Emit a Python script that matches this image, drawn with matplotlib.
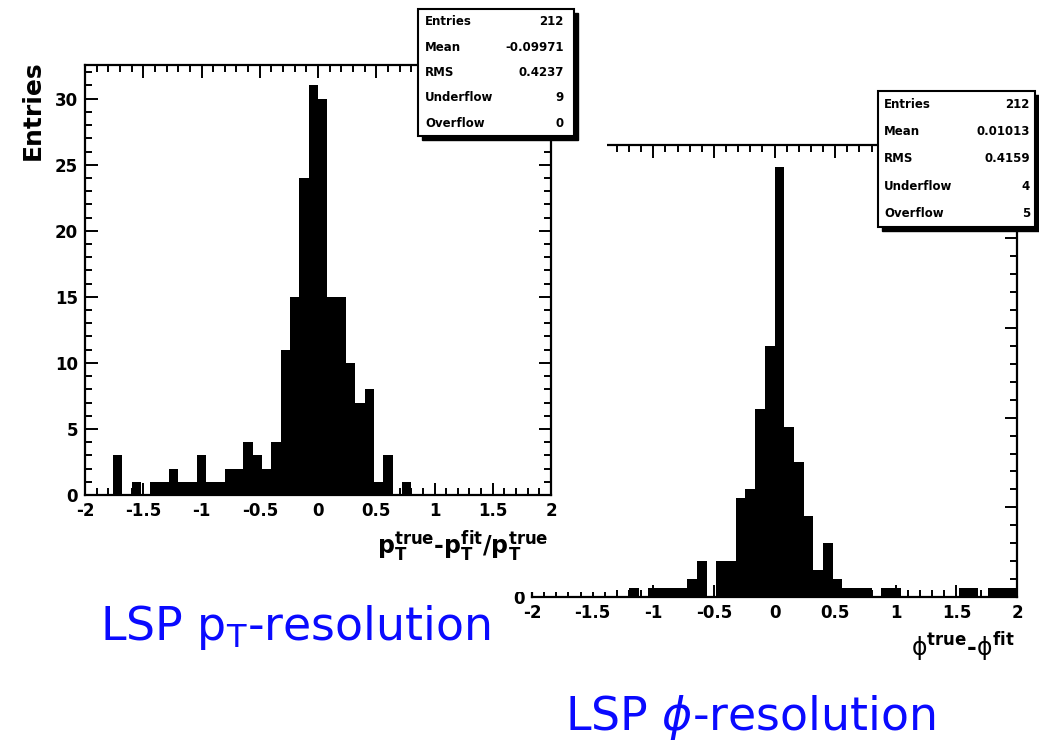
import numpy as np
import matplotlib
matplotlib.use('Agg')
import matplotlib.pyplot as plt
from matplotlib.patches import Rectangle
from matplotlib.ticker import MultipleLocator, FormatStrFormatter

plt.rcParams['axes.unicode_minus'] = False
plt.rcParams['font.family'] = ['DejaVu Sans']

# 50 bins from -2 to 2
bin_edges = np.linspace(-2, 2, 51)

# pT resolution: (pT_true - pT_fit) / pT_true
pt_counts = [0, 0, 0, 3, 0, 1, 0, 1, 1, 2,
             1, 1, 3, 1, 1, 2, 2, 4, 3, 2,
             4, 11, 15, 24, 31, 30, 15, 15, 10, 7,
             8, 1, 3, 0, 1, 0, 0, 0, 0, 0,
             0, 0, 0, 0, 0, 0, 0, 0, 0, 0]
pt_stats = [('Entries', '212'), ('Mean', '-0.09971'), ('RMS', '0.4237'),
            ('Underflow', '9'), ('Overflow', '0')]

# phi resolution: phi_true - phi_fit
phi_counts = [0, 0, 0, 0, 0, 0, 0, 0, 0, 0,
              1, 0, 1, 1, 1, 1, 2, 4, 0, 4,
              4, 11, 12, 21, 28, 48, 19, 15, 9, 3,
              6, 2, 1, 1, 1, 0, 1, 1, 0, 0,
              0, 0, 0, 0, 1, 1, 0, 1, 1, 1]
phi_stats = [('Entries', '212'), ('Mean', '0.01013'), ('RMS', '0.4159'),
             ('Underflow', '4'), ('Overflow', '5')]

W, H = 1039, 741
fig = plt.figure(figsize=(W / 100, H / 100), dpi=100)


def fx(x):
    return x / W


def fy(y):
    return 1 - y / H


def px_rect(x0, y0, x1, y1):
    return [fx(x0), fy(y1), (x1 - x0) / W, (y1 - y0) / H]


def root_hist(ax, counts, ymajor, yminor):
    ax.stairs(counts, bin_edges, fill=True, color='black', lw=0)
    ax.set_xlim(-2, 2)
    ax.set_ylim(0, max(counts) * 1.05)
    ax.xaxis.set_major_locator(MultipleLocator(0.5))
    ax.xaxis.set_minor_locator(MultipleLocator(0.1))
    ax.yaxis.set_major_locator(MultipleLocator(ymajor))
    ax.yaxis.set_minor_locator(MultipleLocator(yminor))
    ax.xaxis.set_major_formatter(FormatStrFormatter('%g'))
    ax.tick_params(which='both', direction='in', top=True, right=True, width=1.4)
    ax.tick_params(which='major', length=9, labelsize=12, pad=5)
    ax.tick_params(which='minor', length=5)
    for lab in ax.get_xticklabels() + ax.get_yticklabels():
        lab.set_fontweight('bold')
    for s in ax.spines.values():
        s.set_linewidth(1.6)


def stat_box(x0, y0, x1, y1, rows, lx, rx):
    fig.add_artist(Rectangle((fx(x0 + 4), fy(y1 + 4)), (x1 - x0) / W, (y1 - y0) / H,
                             transform=fig.transFigure, color='black', zorder=10))
    fig.add_artist(Rectangle((fx(x0), fy(y1)), (x1 - x0) / W, (y1 - y0) / H,
                             transform=fig.transFigure, facecolor='white',
                             edgecolor='black', lw=1.5, zorder=11))
    step = (y1 - y0) / len(rows)
    for i, (name, val) in enumerate(rows):
        y = y0 + step * (i + 0.5)
        fig.text(fx(lx), fy(y), name, ha='left', va='center', fontsize=8.5,
                 fontweight='bold', zorder=12)
        fig.text(fx(rx), fy(y), val, ha='right', va='center', fontsize=8.5,
                 fontweight='bold', zorder=12)


# right histogram (phi), partly covered by the pT canvas
ax_phi = fig.add_axes(px_rect(532, 145, 1017, 597))
ax_phi.set_zorder(1)
root_hist(ax_phi, phi_counts, 10, 2)

# white canvas of the pT plot lying on top
fig.add_artist(Rectangle((0, fy(592)), fx(607), 1 - fy(592), transform=fig.transFigure,
                         facecolor='white', edgecolor='none', zorder=2))

ax_pt = fig.add_axes(px_rect(85, 65, 551, 495))
ax_pt.set_zorder(3)
root_hist(ax_pt, pt_counts, 5, 1)

stat_box(418, 9, 574, 136, pt_stats, 425, 564)
stat_box(878, 91, 1035, 227, phi_stats, 884, 1030)

fig.text(fx(33), fy(60), 'Entries', rotation=90, ha='center', va='top',
         fontsize=18, fontweight='bold', zorder=5)
fig.text(fx(548), fy(529),
         r'$\mathbf{p}_\mathbf{T}^\mathbf{true}$-$\mathbf{p}_\mathbf{T}^\mathbf{fit}$/$\mathbf{p}_\mathbf{T}^\mathbf{true}$',
         ha='right', va='top', fontsize=17, fontweight='bold', zorder=5)
fig.text(fx(1015), fy(630), r'$\mathrm{\phi}^\mathbf{true}$-$\mathrm{\phi}^\mathbf{fit}$',
         ha='right', va='top', fontsize=17, fontweight='bold', zorder=5)

fig.text(fx(100), fy(640), r'LSP p$_\mathregular{T}$-resolution', ha='left',
         va='baseline', fontsize=33, color='#0a0aff', zorder=5)
fig.text(fx(565), fy(730), r'LSP $\phi$-resolution', ha='left',
         va='baseline', fontsize=33, color='#0a0aff', zorder=5)

fig.savefig('out.png', dpi=100)
